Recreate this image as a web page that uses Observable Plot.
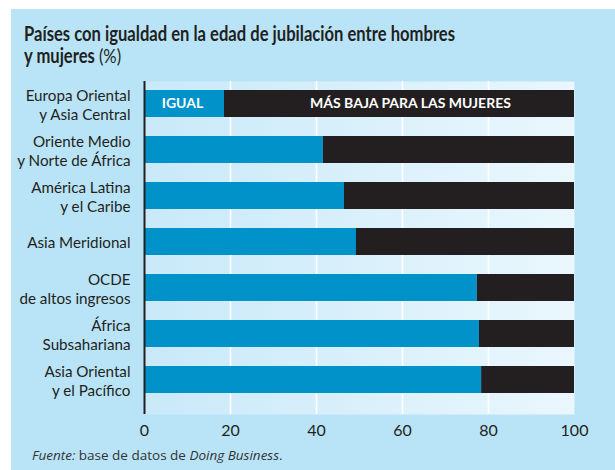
<!DOCTYPE html>
<html><head><meta charset="utf-8">
<script src="https://cdn.jsdelivr.net/npm/d3@7"></script>
<script src="https://cdn.jsdelivr.net/npm/@observablehq/plot@0.6"></script>
<style>
html,body{margin:0;padding:0;background:#fff;width:615px;height:470px;overflow:hidden;}
#panel{position:absolute;left:11px;top:9px;width:604px;height:461px;background:#b9e4f8;}
#title{position:absolute;left:24px;top:22px;font-family:Lato,"Open Sans",sans-serif;font-weight:bold;font-size:20px;line-height:22px;color:#231f20;white-space:nowrap;transform-origin:0 0;}
#title .n{font-weight:normal;}
#chart{position:absolute;left:0;top:70px;}
#caption{position:absolute;left:32px;top:446px;font-family:"Open Sans",sans-serif;font-size:13.5px;color:#333;}
</style></head>
<body>
<div id="panel"></div>
<div id="title"><span id="l1">Países con igualdad en la edad de jubilación entre hombres</span><br>y mujeres <span class="n">(%)</span></div>
<div id="chart"></div>
<div id="caption"><i>Fuente:</i> base de datos de <i>Doing Business</i>.</div>
<script>
const regions = ["Europa Oriental\ny Asia Central","Oriente Medio\ny Norte de África","América Latina\ny el Caribe","Asia Meridional","OCDE\nde altos ingresos","África\nSubsahariana","Asia Oriental\ny el Pacífico"];
const igual = [18.6, 41.6, 46.5, 49.3, 77.4, 77.9, 78.4];
const masBaja = [81.4, 58.4, 53.5, 50.7, 22.6, 22.1, 21.6];
const seriesNames = ["IGUAL", "MÁS BAJA PARA LAS MUJERES"];
const xTicks = [0, 20, 40, 60, 80, 100];

// condense the title to the reference's narrow typeface width
const l1 = document.getElementById("l1");
const w = l1.getBoundingClientRect().width;
if (w > 0) document.getElementById("title").style.transform = `scaleX(${431 / w})`;

const data = [];
regions.forEach((r, i) => {
  data.push({region: r, serie: seriesNames[0], value: igual[i], order: 0});
  data.push({region: r, serie: seriesNames[1], value: masBaja[i], order: 1});
});

const chart = Plot.plot({
  width: 615,
  height: 380,
  marginLeft: 144,
  marginRight: 41,
  marginTop: 11,
  marginBottom: 36,
  style: {fontFamily: "Lato, 'Open Sans', sans-serif", background: "transparent", color: "#231f20"},
  x: {domain: [0, 100], axis: null},
  y: {domain: regions, range: [10.5, 332.5], paddingInner: 0.41, paddingOuter: 0.205, axis: null},
  color: {domain: seriesNames, range: ["#0092c9", "#231f20"]},
  marks: [
    Plot.frame({fill: "url(#bggrad)", stroke: "none"}),
    Plot.gridX(xTicks.filter(d => d > 0 && d < 100), {stroke: "#fff", strokeOpacity: 1, strokeWidth: 1.6}),
    Plot.barX(data, Plot.stackX({x: "value", y: "region", fill: "serie", order: "order"})),
    Plot.ruleX([0], {stroke: "#231f20", strokeWidth: 2}),
    Plot.text([{region: regions[0], text: seriesNames[0], x: igual[0] / 2}],
      {x: "x", y: "region", text: "text", fill: "#fff", fontWeight: "bold", fontSize: 14, dx: -2}),
    Plot.text([{region: regions[0], text: seriesNames[1], x: igual[0] + masBaja[0] / 2}],
      {x: "x", y: "region", text: "text", fill: "#fff", fontWeight: "bold", fontSize: 14, dx: 11}),
    Plot.axisY({tickSize: 0, tickPadding: 14, fontSize: 15.2, lineHeight: 1.26, label: null}),
    Plot.axisX(xTicks, {tickSize: 0, tickPadding: 10, fontSize: 16, label: null})
  ]
});
const svg = d3.select(chart);
const defs = svg.insert("defs", ":first-child");
const g = defs.append("linearGradient").attr("id", "bggrad").attr("x1", "0").attr("x2", "1").attr("y1", "0").attr("y2", "0");
g.append("stop").attr("offset", "0").attr("stop-color", "#c9e9f9");
g.append("stop").attr("offset", "1").attr("stop-color", "#eaf7fd");
document.getElementById("chart").appendChild(chart);
</script>
</body></html>
